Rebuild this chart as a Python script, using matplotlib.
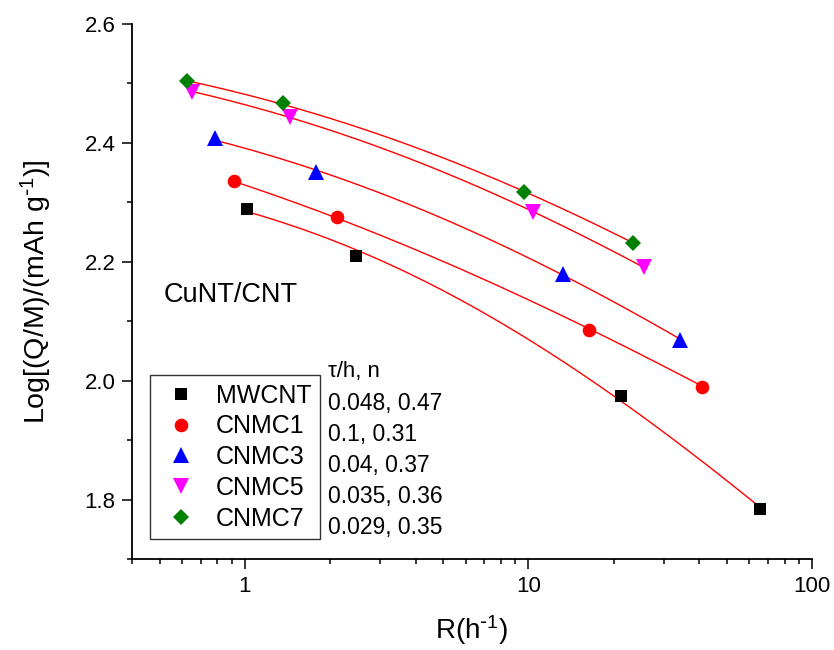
import numpy as np
import matplotlib
matplotlib.use('Agg')
import matplotlib.pyplot as plt
from matplotlib.ticker import MultipleLocator, LogLocator, NullFormatter, FixedLocator, FixedFormatter

plt.rcParams['font.family'] = ['Liberation Sans', 'DejaVu Sans']
plt.rcParams['mathtext.default'] = 'regular'

# rate R (1/h) and log capacity for each sample
names = ['MWCNT', 'CNMC1', 'CNMC3', 'CNMC5', 'CNMC7']
R_mwcnt = [1.02, 2.46, 21.2, 65.8]
Q_mwcnt = [2.289, 2.209, 1.975, 1.784]
R_cnmc1 = [0.915, 2.11, 16.4, 40.9]
Q_cnmc1 = [2.336, 2.276, 2.085, 1.990]
R_cnmc3 = [0.782, 1.78, 13.2, 34.3]
Q_cnmc3 = [2.408, 2.351, 2.180, 2.068]
R_cnmc5 = [0.649, 1.44, 10.4, 25.6]
Q_cnmc5 = [2.485, 2.443, 2.284, 2.192]
R_cnmc7 = [0.624, 1.36, 9.64, 23.4]
Q_cnmc7 = [2.504, 2.468, 2.317, 2.231]

# fitted parameters tau (h) and n
tau = [0.048, 0.1, 0.04, 0.035, 0.029]
n_exp = [0.47, 0.31, 0.37, 0.36, 0.35]
fit_text = ['0.048, 0.47', '0.1, 0.31', '0.04, 0.37', '0.035, 0.36', '0.029, 0.35']

R_all = [R_mwcnt, R_cnmc1, R_cnmc3, R_cnmc5, R_cnmc7]
Q_all = [Q_mwcnt, Q_cnmc1, Q_cnmc3, Q_cnmc5, Q_cnmc7]
markers = ['s', 'o', '^', 'v', 'D']
colors = ['black', 'red', 'blue', 'magenta', 'green']
msizes = [8.6, 9.8, 11.5, 11.5, 8.4]


def peukert(R, t, n):
    x = np.asarray(R) * t
    return np.log10(1 - x**n * (1 - np.exp(-x**(-n))))


fig = plt.figure(figsize=(8.34, 6.5), dpi=100)
ax = fig.add_axes([0.1583, 0.14, 0.8153, 0.823])

for i in range(5):
    R = np.array(R_all[i])
    Q = np.array(Q_all[i])
    # capacity scale from the data with tau, n fixed
    logQm = np.mean(Q - peukert(R, tau[i], n_exp[i]))
    rr = np.geomspace(R[0], R[-1], 200)
    ax.plot(rr, logQm + peukert(rr, tau[i], n_exp[i]), color='red', lw=1.0, zorder=2)
    ax.plot(R, Q, linestyle='none', marker=markers[i], color=colors[i],
            markersize=msizes[i], markeredgewidth=0, label=names[i], zorder=3)

ax.set_xscale('log')
ax.set_xlim(0.4, 100)
ax.set_ylim(1.7, 2.6)

ax.xaxis.set_major_locator(FixedLocator([1, 10, 100]))
ax.xaxis.set_major_formatter(FixedFormatter(['1', '10', '100']))
ax.xaxis.set_minor_locator(LogLocator(base=10, subs=np.arange(2, 10)))
ax.xaxis.set_minor_formatter(NullFormatter())
ax.yaxis.set_major_locator(FixedLocator([1.8, 2.0, 2.2, 2.4, 2.6]))
ax.yaxis.set_major_formatter(FixedFormatter(['1.8', '2.0', '2.2', '2.4', '2.6']))
ax.yaxis.set_minor_locator(MultipleLocator(0.1))

ax.spines['top'].set_visible(False)
ax.spines['right'].set_visible(False)
ax.spines['left'].set_linewidth(1.3)
ax.spines['bottom'].set_linewidth(1.3)
ax.tick_params(which='major', direction='out', length=7, width=1.1, labelsize=16, pad=5)
ax.tick_params(which='minor', direction='out', length=3.6, width=1.1)

ax.set_xlabel('R(h$^{\\text{-}1}$)', fontsize=20, labelpad=12)
ax.set_ylabel('Log[(Q/M)/(mAh g$^{\\text{-}1}$)]', fontsize=20.5, labelpad=22)

ax.text(0.047, 0.494, 'CuNT/CNT', transform=ax.transAxes, fontsize=19.5, va='center')

leg = ax.legend(loc='lower left', bbox_to_anchor=(0.0265, 0.0374), borderaxespad=0,
                fontsize=18, frameon=True, fancybox=False, edgecolor='black',
                numpoints=1, handlelength=1.8, handletextpad=0.5, labelspacing=0.27,
                borderpad=0.33)
leg.get_frame().set_linewidth(1.0)

# tau and n for each fit, beside the legend
ax.text(0.288, 0.350, 'τ/h, n', transform=ax.transAxes, fontsize=16, va='center')
for i in range(5):
    ax.text(0.288, 0.290 - i * 0.058, fit_text[i], transform=ax.transAxes,
            fontsize=16.5, va='center')

plt.savefig('out.png', dpi=100)
